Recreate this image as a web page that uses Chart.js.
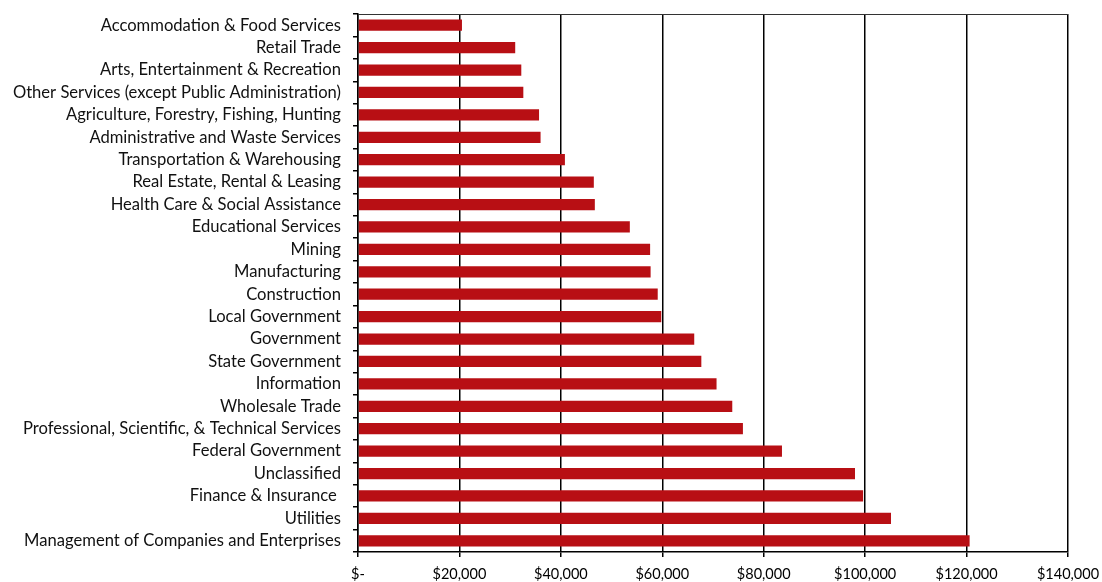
<!DOCTYPE html>
<html>
<head>
<meta charset="utf-8">
<script src="https://cdn.jsdelivr.net/npm/chart.js@4/dist/chart.umd.min.js"></script>
<style>
  html, body { margin: 0; padding: 0; background: #fff; }
  #wrap { width: 1102px; height: 582px; }
</style>
</head>
<body>
<div id="wrap"><canvas id="chart" width="1102" height="582"></canvas></div>
<script>
// average annual wage by industry
const industries = [
    'Accommodation & Food Services',
    'Retail Trade',
    'Arts, Entertainment & Recreation',
    'Other Services (except Public Administration)',
    'Agriculture, Forestry, Fishing, Hunting',
    'Administrative and Waste Services',
    'Transportation & Warehousing',
    'Real Estate, Rental & Leasing',
    'Health Care & Social Assistance',
    'Educational Services',
    'Mining',
    'Manufacturing',
    'Construction',
    'Local Government',
    'Government',
    'State Government',
    'Information',
    'Wholesale Trade',
    'Professional, Scientific, & Technical Services',
    'Federal Government',
    'Unclassified',
    'Finance & Insurance ',
    'Utilities',
    'Management of Companies and Enterprises'
];
const wages = [
    20500, 31000, 32200, 32600, 35700, 36000, 40800, 46500,
    46700, 53600, 57600, 57700, 59100, 59800, 66300, 67700,
    70700, 73800, 75900, 83600, 98000, 99600, 105100, 120600
];
const xTicks = [0, 20000, 40000, 60000, 80000, 100000, 120000, 140000];

const fontFamily = 'Lato, "Open Sans", sans-serif';

// top edge of the plot frame
const frameTop = {
    id: 'frameTop',
    afterDraw(chart) {
        const a = chart.chartArea, c = chart.ctx;
        c.save();
        c.strokeStyle = '#333';
        c.lineWidth = 1;
        c.beginPath();
        c.moveTo(a.left, a.top + 0.5);
        c.lineTo(a.right, a.top + 0.5);
        c.stroke();
        c.restore();
    }
};

function money(v) {
    if (v === 0) return '$-';
    return '$' + v.toLocaleString('en-US');
}

new Chart(document.getElementById('chart'), {
    type: 'bar',
    data: {
        labels: industries,
        datasets: [{
            data: wages,
            backgroundColor: '#b80f14',
            categoryPercentage: 1,
            barPercentage: 0.5
        }]
    },
    options: {
        indexAxis: 'y',
        responsive: false,
        animation: false,
        layout: { padding: { top: 14, right: 34, left: 0, bottom: 0 } },
        plugins: {
            legend: { display: false },
            tooltip: { enabled: false }
        },
        scales: {
            x: {
                min: 0,
                max: 140000,
                afterBuildTicks(scale) {
                    scale.ticks = xTicks.map(v => ({ value: v }));
                },
                afterFit(scale) {
                    scale.height = 30;
                    scale.paddingLeft = 0;
                    scale.paddingRight = 0;
                },
                grid: {
                    color: '#000',
                    lineWidth: 1.5,
                    tickLength: 5,
                    tickColor: '#000'
                },
                border: { color: '#000', width: 1.5 },
                ticks: {
                    color: '#000',
                    font: { family: fontFamily, size: 14.5 },
                    padding: 9,
                    maxRotation: 0,
                    callback: v => money(v)
                }
            },
            y: {
                afterFit(scale) {
                    scale.width = 358;
                    scale.paddingTop = 0;
                    scale.paddingBottom = 0;
                },
                grid: {
                    drawOnChartArea: false,
                    tickLength: 5,
                    color: '#000',
                    lineWidth: 1.5
                },
                border: { color: '#000', width: 1.5 },
                ticks: {
                    color: '#111',
                    font: { family: fontFamily, size: 16.6 },
                    padding: 12,
                    autoSkip: false
                }
            }
        }
    },
    plugins: [frameTop]
});
</script>
</body>
</html>
